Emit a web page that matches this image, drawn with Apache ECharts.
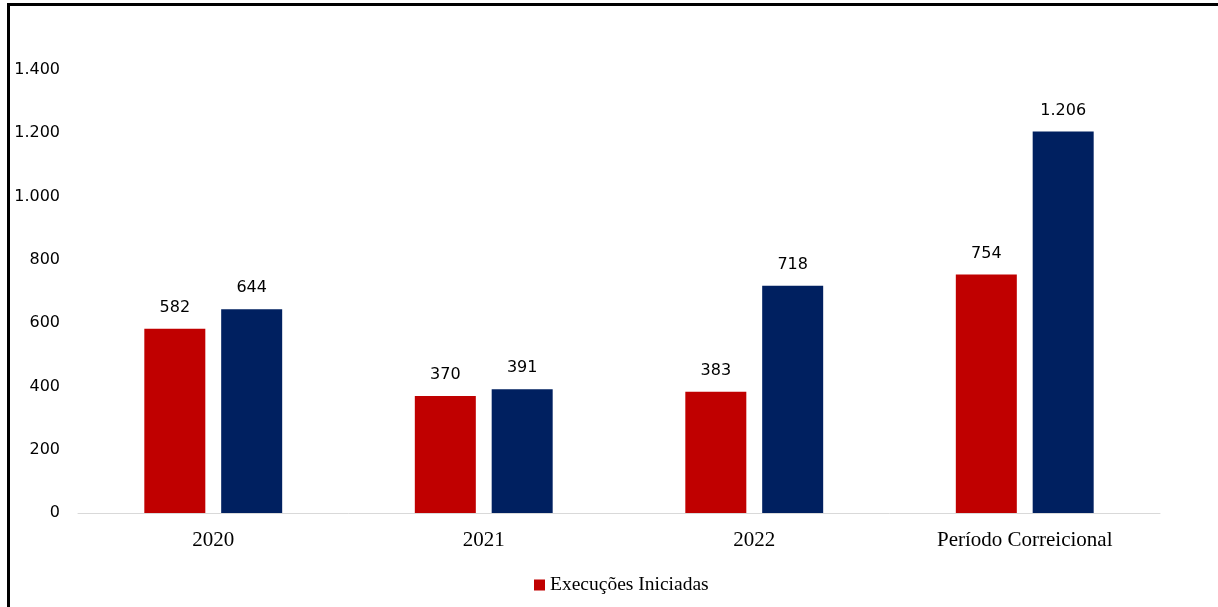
<!DOCTYPE html>
<html>
<head>
<meta charset="utf-8">
<style>
  html, body { margin: 0; padding: 0; background: #fff; }
  #chart { width: 1218px; height: 607px; }
  #frame {
    position: absolute; left: 7px; top: 3px; right: 0; bottom: 0;
    border-left: 3px solid #000; border-top: 3px solid #000;
    pointer-events: none;
  }
</style>
<script src="https://cdn.jsdelivr.net/npm/echarts@6/dist/echarts.min.js"></script>
</head>
<body>
<div id="chart"></div>
<div id="frame"></div>
<script>
const categories = ['2020', '2021', '2022', 'Período Correicional']
const iniciadas = [582, 370, 383, 754]
const outras = [644, 391, 718, 1206]
const yTicks = [0, 200, 400, 600, 800, 1000, 1200, 1400]

// separador de milhar com ponto
function fmt(v) {
  return String(v).replace(/\B(?=(\d{3})+(?!\d))/g, '.')
}

const numFont = 'DejaVu Sans'
const textFont = 'Liberation Serif'

const chart = echarts.init(document.getElementById('chart'))
chart.setOption({
  animation: false,
  grid: { top: 70, bottom: 94, left: 78, right: 58 },
  legend: {
    data: ['Execuções Iniciadas'],
    left: 529,
    top: 570,
    itemWidth: 11,
    itemHeight: 11,
    icon: 'rect',
    textStyle: { fontFamily: textFont, fontSize: 19.5, color: '#000' }
  },
  xAxis: {
    type: 'category',
    data: categories,
    axisLine: { lineStyle: { color: '#d9d9d9', width: 1 } },
    axisTick: { show: false },
    axisLabel: {
      margin: 17,
      color: '#000',
      fontSize: 21,
      fontFamily: textFont
    }
  },
  yAxis: {
    type: 'value',
    min: 0,
    max: yTicks[yTicks.length - 1],
    interval: 200,
    splitLine: { show: false },
    axisLine: { show: false },
    axisTick: { show: false },
    axisLabel: {
      margin: 18,
      color: '#000',
      fontSize: 16,
      fontFamily: numFont,
      formatter: fmt
    }
  },
  series: [
    {
      name: 'Execuções Iniciadas',
      type: 'bar',
      data: iniciadas,
      barWidth: 61,
      barGap: '26%',
      itemStyle: { color: '#c00000' },
      label: {
        show: true, position: 'top', distance: 13,
        color: '#000', fontSize: 16, fontFamily: numFont,
        formatter: p => fmt(p.value)
      }
    },
    {
      name: 'Execuções Baixadas',
      type: 'bar',
      data: outras,
      barWidth: 61,
      barGap: '26%',
      itemStyle: { color: '#002060' },
      label: {
        show: true, position: 'top', distance: 13,
        color: '#000', fontSize: 16, fontFamily: numFont,
        formatter: p => fmt(p.value)
      }
    }
  ]
})
</script>
</body>
</html>
